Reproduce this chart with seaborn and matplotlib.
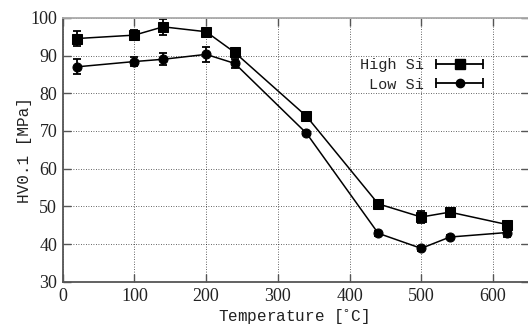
import numpy as np
import pandas as pd
import seaborn as sns
import matplotlib.pyplot as plt
from matplotlib.lines import Line2D
from matplotlib.legend_handler import HandlerLine2D, HandlerTuple

# data
temperature = [20, 100, 140, 200, 240, 340, 440, 500, 540, 620]
high_si = [94.5, 95.4, 97.6, 96.3, 90.8, 73.9, 50.7, 47.2, 48.5, 45.2]
high_si_err = [1.9, 1.3, 2.2, 1.0, 1.3, 0.6, 0.7, 1.7, 0.8, 1.0]
low_si = [87.0, 88.4, 89.0, 90.3, 87.9, 69.4, 42.9, 38.9, 41.9, 43.1]
low_si_err = [2.0, 1.3, 1.6, 2.0, 1.3, 0.5, 0.6, 0.6, 0.5, 1.3]

df = pd.DataFrame({
    "T": temperature * 2,
    "HV": high_si + low_si,
    "err": high_si_err + low_si_err,
    "alloy": ["High Si"] * len(temperature) + ["Low Si"] * len(temperature),
})

sns.set_style("ticks")
plt.rcParams["font.family"] = ["Liberation Serif", "DejaVu Serif"]

fig = plt.figure(figsize=(5.28, 3.29), dpi=100)
ax = fig.add_axes([0.1188, 0.143, 0.8826, 0.803])

sns.lineplot(data=df, x="T", y="HV", hue="alloy", style="alloy",
             markers={"High Si": "s", "Low Si": "o"}, dashes=False,
             palette={"High Si": "black", "Low Si": "black"},
             markersize=6.5, markeredgecolor="black", linewidth=1.1,
             legend=False, ax=ax)

for name, g in df.groupby("alloy"):
    ax.errorbar(g["T"], g["HV"], yerr=g["err"], fmt="none", ecolor="black",
                elinewidth=1.3, capsize=2.7, capthick=1.3)

ax.set_xlim(0, 650)
ax.set_ylim(30, 100)
ax.set_xticks(range(0, 700, 100))
ax.set_yticks(range(30, 110, 10))
ax.grid(True, color="black", linestyle=(0, (1, 2)), linewidth=0.6, alpha=0.8)
ax.tick_params(direction="in", length=6, width=1, colors="#555555",
               labelcolor="#222222", labelsize=13, top=True, right=True, pad=4)
for s in ["top", "right"]:
    ax.spines[s].set_color("#aaaaaa")
for s in ["left", "bottom"]:
    ax.spines[s].set_color("#555555")
for s in ax.spines.values():
    s.set_linewidth(1.3)

ax.set_xlabel("Temperature [$^{\\circ}$C]", family="Liberation Mono",
              fontsize=11.5, color="#222222")
ax.set_ylabel("HV0.1 [MPa]", family="Liberation Mono", fontsize=11.5,
              color="#222222")
ax.xaxis.set_label_coords(0.494, -0.095)
ax.yaxis.set_label_coords(-0.066, 0.5)

# legend: label left, horizontal bar with caps and marker
handles = []
hmap = {}
for m in ["s", "o"]:
    caps = Line2D([], [], color="black", marker="|", markersize=7,
                  markeredgewidth=1.3, linewidth=1.3)
    mark = Line2D([], [], color="black", marker=m,
                  markersize=6.5 if m == "s" else 6, linestyle="none")
    hmap[caps] = HandlerLine2D(numpoints=2, marker_pad=0)
    hmap[mark] = HandlerLine2D(numpoints=1)
    handles.append((caps, mark))
hmap[tuple] = HandlerTuple(ndivide=1)
ax.legend(handles, ["High Si", "Low Si"], handler_map=hmap, loc="upper right",
          bbox_to_anchor=(0.919, 0.875), frameon=False, markerfirst=False,
          prop={"family": "Liberation Mono", "size": 11}, handlelength=3.1,
          handletextpad=0.8, labelspacing=0.35, borderpad=0)

fig.savefig("out.png", dpi=100)
